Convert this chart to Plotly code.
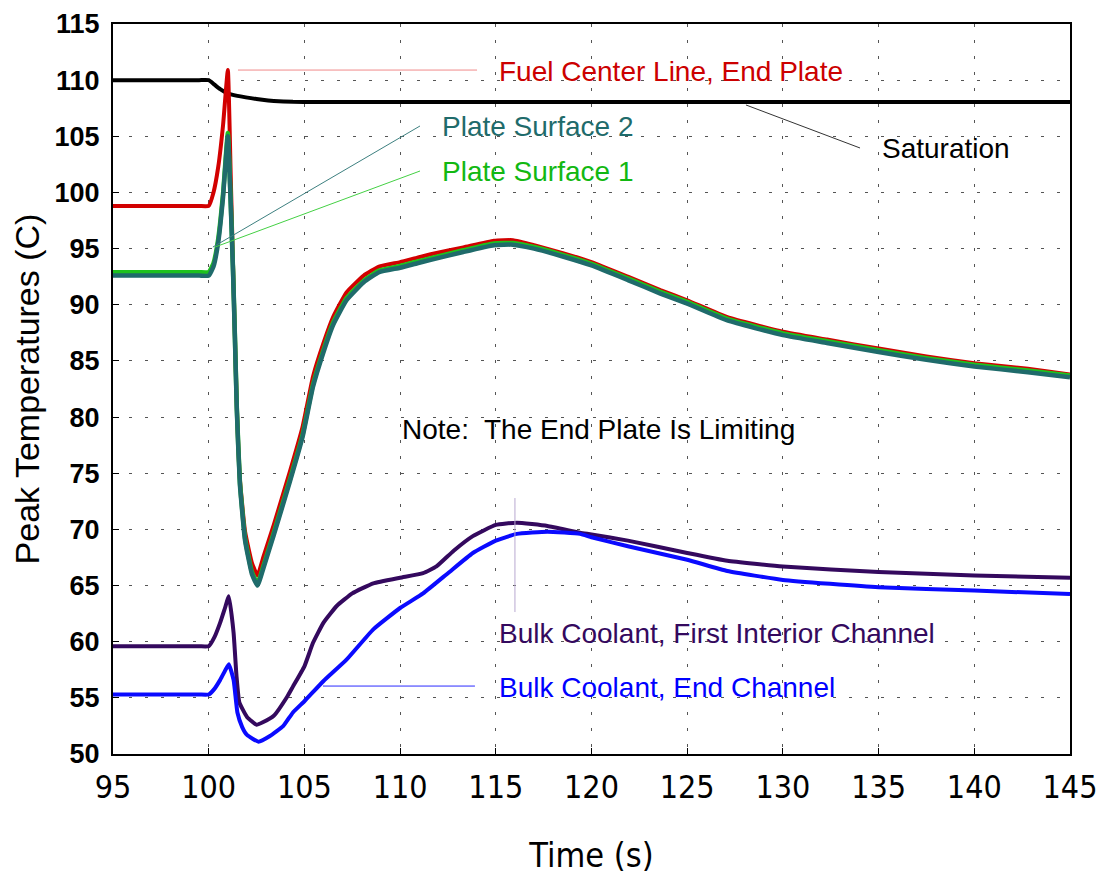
import plotly.graph_objects as go

# ---------------- data ----------------
sat_x = [95, 97.5, 99.5, 100.0, 100.3, 100.6, 100.95, 101.5, 102.2, 102.8, 103.4, 104.4, 105.5, 110, 125, 145]
sat_y = [110.0, 110.0, 110.0, 110.0, 109.6, 109.2, 108.85, 108.6, 108.4, 108.25, 108.15, 108.07, 108.05, 108.05, 108.05, 108.05]

fuel_x = [95, 97.5, 99.5, 100.0, 100.25, 100.5, 100.75, 101.0, 101.15, 101.27, 101.37, 101.47, 101.63, 101.9,
          102.26, 102.55, 102.85, 103.4, 104.25, 104.9, 105.45, 106.0, 106.5, 107.2, 108.1, 108.9,
          110.0, 110.9, 111.6, 113.3, 114.9, 115.9, 117.0, 118.5, 120.0, 121.9, 123.6, 125.0, 127.1,
          130.0, 132.3, 135.0, 137.5, 140.0, 142.8, 145.0]
fuel_y = [98.8, 98.8, 98.8, 98.8, 100.0, 102.3, 106.0, 110.9, 101.5, 93.6, 87.2, 80.9, 74.5, 69.8,
          67.0, 65.9, 67.5, 70.4, 75.2, 79.1, 83.6, 86.6, 88.9, 91.1, 92.6, 93.4,
          93.8, 94.2, 94.5, 95.1, 95.7, 95.75, 95.3, 94.6, 93.8, 92.5, 91.3, 90.4, 88.9,
          87.6, 86.9, 86.1, 85.4, 84.8, 84.3, 83.8]

surf2_y = [92.6, 92.6, 92.6, 92.6, 93.4, 95.6, 99.6, 105.0, 99.0, 93.0, 87.0, 80.6, 74.0, 69.0,
           66.0, 65.0, 66.5, 69.5, 74.3, 78.2, 82.7, 85.8, 88.2, 90.4, 92.0, 92.9,
           93.3, 93.7, 94.0, 94.7, 95.3, 95.35, 95.0, 94.3, 93.5, 92.2, 91.0, 90.1, 88.6,
           87.3, 86.6, 85.8, 85.1, 84.5, 84.0, 83.55]
surf1_y = [92.9, 92.9, 92.9, 92.9, 93.7, 95.9, 99.9, 105.3, 99.2, 93.2, 87.2, 80.8, 74.2, 69.2,
           66.2, 65.2, 66.7, 69.7, 74.5, 78.4, 82.9, 86.0, 88.4, 90.6, 92.15, 93.05,
           93.45, 93.85, 94.15, 94.85, 95.45, 95.5, 95.15, 94.45, 93.65, 92.35, 91.15, 90.25, 88.75,
           87.45, 86.75, 85.95, 85.25, 84.65, 84.15, 83.7]

bulk1_x = [95, 97.5, 99.5, 100.0, 100.3, 100.6, 100.85, 101.05, 101.3, 101.45, 101.6, 102.0, 102.5, 102.8,
           103.4, 104.1, 104.4, 105.0, 105.45, 106.0, 106.7, 107.5, 108.6, 110.0, 111.2, 111.9,
           112.8, 113.8, 115.0, 116.1, 117.7, 119.4, 120.0, 121.9, 125.0, 127.1, 130.0, 135.0,
           140.0, 145.0]
bulk1_y = [59.6, 59.6, 59.6, 59.6, 60.4, 61.7, 63.0, 64.05, 60.8, 57.0, 54.6, 53.3, 52.6, 52.8,
           53.4, 55.1, 56.0, 57.8, 59.9, 61.7, 63.2, 64.3, 65.2, 65.7, 66.1, 66.7,
           68.1, 69.4, 70.4, 70.6, 70.3, 69.7, 69.55, 69.0, 67.9, 67.2, 66.7, 66.2,
           65.9, 65.7]

bulk2_x = [95, 97.5, 99.5, 100.0, 100.3, 100.6, 100.85, 101.05, 101.3, 101.5, 101.75, 102.0, 102.6, 103.2,
           103.9, 104.4, 105.0, 106.0, 107.2, 108.6, 110.0, 111.2, 112.5, 113.8, 115.0, 116.1,
           117.7, 119.4, 120.0, 121.9, 125.0, 127.1, 130.0, 135.0, 140.0, 145.0]
bulk2_y = [55.3, 55.3, 55.3, 55.3, 55.8, 56.6, 57.4, 58.0, 56.6, 53.7, 52.4, 51.7, 51.1, 51.6,
           52.5, 53.7, 54.7, 56.5, 58.4, 61.1, 63.0, 64.3, 66.1, 67.9, 69.0, 69.6,
           69.8, 69.6, 69.3, 68.5, 67.3, 66.3, 65.5, 64.85, 64.55, 64.25]

x_ticks = [95, 100, 105, 110, 115, 120, 125, 130, 135, 140, 145]
y_ticks = [50, 55, 60, 65, 70, 75, 80, 85, 90, 95, 100, 105, 110, 115]

# ---------------- styles ----------------
C_SAT = "#000000"
C_FUEL = "#d20000"
C_S1 = "#1ec21e"
C_S2 = "#1f6b6b"
C_B1 = "#34095e"
C_B2 = "#0a0aff"
FONT = "Liberation Sans, Arial, sans-serif"
NARROW = "Liberation Sans Narrow, Arial Narrow, DejaVu Sans Condensed, Liberation Sans, sans-serif"

def line(color, width):
    return dict(color=color, width=width, shape="spline", smoothing=0.4)

fig = go.Figure()
fig.add_trace(go.Scatter(x=sat_x, y=sat_y, mode="lines", line=line(C_SAT, 4), name="Saturation"))
fig.add_trace(go.Scatter(x=fuel_x, y=fuel_y, mode="lines", line=line(C_FUEL, 4), name="Fuel Center Line, End Plate"))
fig.add_trace(go.Scatter(x=fuel_x, y=surf1_y, mode="lines", line=line(C_S1, 4.5), name="Plate Surface 1"))
fig.add_trace(go.Scatter(x=fuel_x, y=surf2_y, mode="lines", line=line(C_S2, 4.5), name="Plate Surface 2"))
fig.add_trace(go.Scatter(x=bulk1_x, y=bulk1_y, mode="lines", line=line(C_B1, 4), name="Bulk Coolant, First Interior Channel"))
fig.add_trace(go.Scatter(x=bulk2_x, y=bulk2_y, mode="lines", line=line(C_B2, 4), name="Bulk Coolant, End Channel"))

# leader lines
leaders = [
    (101.53, 110.9, 114.02, 110.9, "#f08a8a"),
    (100.22, 95.14, 111.04, 105.92, "#3d8080"),
    (100.33, 95.14, 111.04, 101.91, "#44d044"),
    (128.07, 107.79, 134.03, 103.96, "#333333"),
    (116.0, 72.79, 116.0, 62.64, "#b8a8d0"),
    (105.97, 56.05, 113.91, 56.05, "#2a2aff"),
]
for x0, y0, x1, y1, c in leaders:
    fig.add_shape(type="line", x0=x0, y0=y0, x1=x1, y1=y1, xref="x", yref="y",
                  line=dict(color=c, width=1))

labels = [
    ("Fuel Center Line, End Plate", 115.06, 110.8, "#cc0000"),
    ("Plate Surface 2", 112.08, 105.9, C_S2),
    ("Plate Surface 1", 112.08, 101.9, "#12b812"),
    ("Saturation", 135.07, 103.9, "#000000"),
    ("Note:\u00a0 The End Plate Is Limiting", 110.0, 78.85, "#000000"),
    ("Bulk Coolant, First Interior Channel", 115.06, 60.77, C_B1),
    ("Bulk Coolant, End Channel", 115.06, 55.9, "#0000ff"),
]
for t, x, y, c in labels:
    fig.add_annotation(x=x, y=y, xref="x", yref="y", text=t, showarrow=False,
                       xanchor="left", yanchor="middle",
                       font=dict(family=FONT, size=28, color=c))

# page body has an 8px margin, so the figure is sized/offset to compensate
fig.update_layout(
    width=1100, height=870,
    margin=dict(l=105, r=38, t=16, b=124),
    paper_bgcolor="white", plot_bgcolor="white",
    showlegend=False,
)
fig.update_xaxes(
    range=[95, 145], tickvals=x_ticks, ticktext=[str(v) for v in x_ticks],
    showline=True, linecolor="black", linewidth=2, mirror=True,
    ticks="inside", ticklen=6, tickcolor="black",
    showgrid=True, gridcolor="#555555", gridwidth=1, griddash="3px,13px",
    zeroline=False, automargin=False,
    tickfont=dict(family=NARROW, size=32, color="black"),
    ticklabelstandoff=4,
    title=dict(text="Time (s)", font=dict(family=NARROW, size=34, color="black"), standoff=38),
)
fig.update_yaxes(
    range=[50, 115], tickvals=y_ticks, ticktext=[str(v) for v in y_ticks],
    showline=True, linecolor="black", linewidth=2, mirror=True,
    ticks="inside", ticklen=6, tickcolor="black",
    showgrid=True, gridcolor="#555555", gridwidth=1, griddash="3px,13px",
    zeroline=False, automargin=False,
    tickfont=dict(family=FONT, size=27, color="black", weight="bold"),
    ticklabelstandoff=6,
    title=dict(text="Peak Temperatures (C)", font=dict(family=FONT, size=34, color="black"), standoff=12),
)

fig.write_html("out.html")
